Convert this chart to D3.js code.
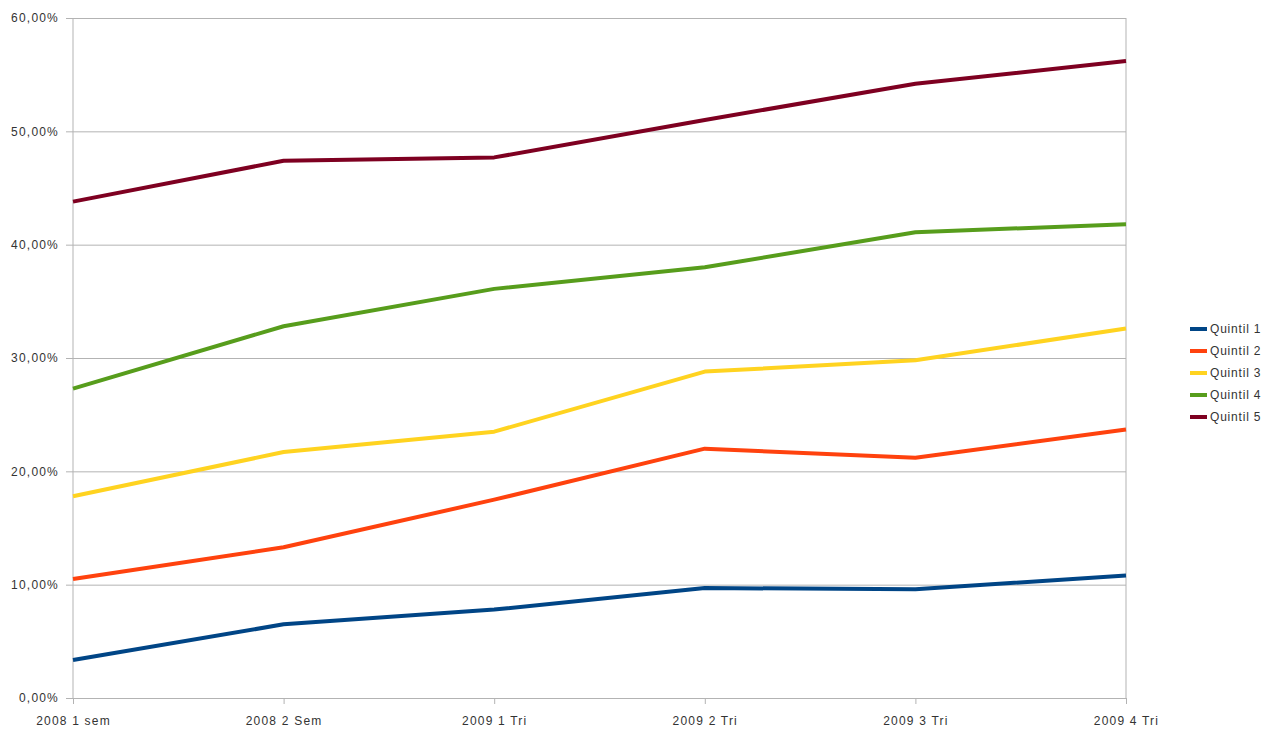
<!DOCTYPE html>
<html>
<head>
<meta charset="utf-8">
<script src="https://cdn.jsdelivr.net/npm/d3@7/dist/d3.min.js"></script>
<style>
html,body{margin:0;padding:0;background:#fff;}
svg{display:block;font-family:"Liberation Sans",Arial,sans-serif;}
</style>
</head>
<body>
<svg id="chart" width="1272" height="731"></svg>
<script>
const categories = ["2008 1 sem","2008 2 Sem","2009 1 Tri","2009 2 Tri","2009 3 Tri","2009 4 Tri"];
const seriesNames = ["Quintil 1","Quintil 2","Quintil 3","Quintil 4","Quintil 5"];
const quintil1 = [3.35, 6.5, 7.8, 9.7, 9.6, 10.8];
const quintil2 = [10.5, 13.3, 17.5, 22.0, 21.2, 23.7];
const quintil3 = [17.8, 21.7, 23.5, 28.8, 29.8, 32.6];
const quintil4 = [27.3, 32.8, 36.1, 38.0, 41.1, 41.8];
const quintil5 = [43.8, 47.4, 47.7, 51.0, 54.2, 56.2];
const yTicks = [0, 10, 20, 30, 40, 50, 60];
const colors = ["#004586","#ff420e","#ffd320","#579d1c","#7e0021"];

(function () {
const seriesValues = [quintil1, quintil2, quintil3, quintil4, quintil5];
const series = seriesNames.map((n, i) => ({name: n, values: seriesValues[i], color: colors[i]}));

const svg = d3.select("#chart");
const pLeft = 73, pRight = 1126, pTop = 18, pBottom = 698;

const x = d3.scalePoint().domain(categories).range([pLeft, pRight]);
const y = d3.scaleLinear().domain([0, 60]).range([pBottom, pTop]);

const fmt = v => v.toFixed(2).replace(".", ",") + "%";

// gridlines + y axis
const yAxis = d3.axisLeft(y).tickValues(yTicks).tickSize(-(pRight - pLeft)).tickFormat(fmt).tickPadding(6);
const gy = svg.append("g").attr("transform", `translate(${pLeft},0)`).call(yAxis);
gy.select(".domain").remove();
gy.selectAll(".tick line").attr("stroke", "#b3b3b3").attr("stroke-width", 1).attr("x1", -7);
gy.selectAll(".tick text").attr("fill", "#333").attr("font-size", 12).attr("letter-spacing", 1.2).attr("x", -14);

// left and right vertical lines
svg.append("line").attr("x1", pLeft).attr("x2", pLeft).attr("y1", pTop).attr("y2", pBottom).attr("stroke", "#b3b3b3");
svg.append("line").attr("x1", pRight).attr("x2", pRight).attr("y1", pTop).attr("y2", pBottom).attr("stroke", "#b3b3b3");

// x axis
const xAxis = d3.axisBottom(x).tickSize(6).tickPadding(12);
const gx = svg.append("g").attr("transform", `translate(0,${pBottom})`).call(xAxis);
gx.select(".domain").attr("stroke", "#b3b3b3");
gx.selectAll(".tick line").attr("stroke", "#b3b3b3");
gx.selectAll(".tick text").attr("fill", "#333").attr("font-size", 12).attr("letter-spacing", 1.2);

// lines
const line = d3.line().x((d, i) => x(categories[i])).y(d => y(d));
svg.append("g").selectAll("path").data(series).join("path")
  .attr("d", d => line(d.values))
  .attr("fill", "none")
  .attr("stroke", d => d.color)
  .attr("stroke-width", 4)
  .attr("stroke-linejoin", "round");

// legend
const lg = svg.append("g").attr("transform", "translate(1190,329)");
const items = lg.selectAll("g").data(series).join("g").attr("transform", (d, i) => `translate(0,${i * 22})`);
items.append("line").attr("x1", 0).attr("x2", 17).attr("y1", 0).attr("y2", 0)
  .attr("stroke", d => d.color).attr("stroke-width", 4);
items.append("text").attr("x", 20).attr("y", 0).attr("dy", "0.35em")
  .attr("font-size", 12).attr("letter-spacing", 0.8).attr("fill", "#333").text(d => d.name);
})();
</script>
</body>
</html>
